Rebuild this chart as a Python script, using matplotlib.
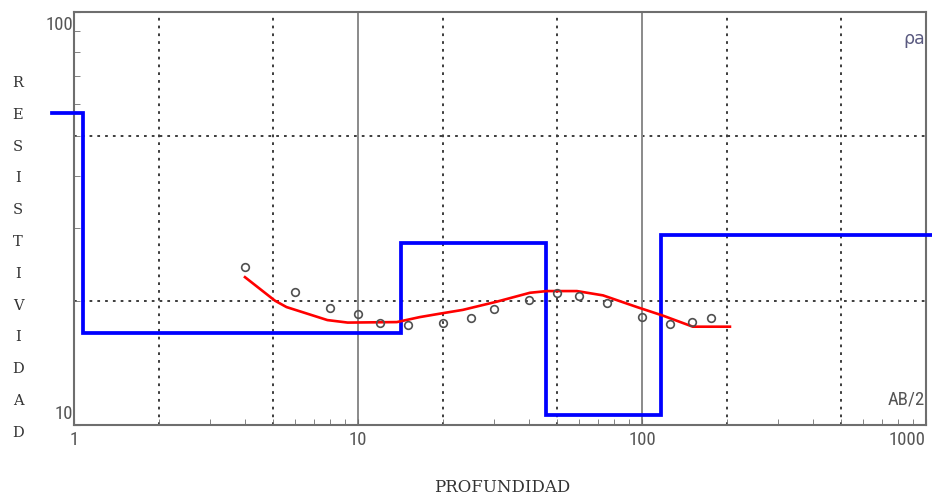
import matplotlib
matplotlib.use("Agg")
import matplotlib.pyplot as plt
from matplotlib import font_manager

# ---------- data ----------
# field measurements (AB/2, apparent resistivity)
ab2 = [4, 6, 8, 10, 12, 15, 20, 25, 30, 40, 50, 60, 75, 100, 125, 150, 175]
rho_obs = [24.1, 21.0, 19.2, 18.6, 17.7, 17.5, 17.7, 18.2, 19.1, 20.1,
           20.9, 20.5, 19.7, 18.3, 17.6, 17.8, 18.2]

# fitted curve
fit_x = [4.0, 5.1, 5.6, 7.8, 9.2, 13.7, 16.5, 19.4, 23.4, 30.9, 40.3,
         46.3, 59.0, 72.9, 96.0, 118.5, 151, 204]
fit_y = [22.8, 20.0, 19.3, 17.95, 17.7, 17.75, 18.25, 18.6, 19.0, 19.9,
         20.9, 21.1, 21.1, 20.6, 19.3, 18.4, 17.3, 17.3]

# layered model: depth boundaries and layer resistivities
depths = [0.84, 1.08, 14.2, 45.9, 116.7, 1050]
rho_layers = [56.9, 16.7, 27.6, 10.6, 28.8]

# pick a narrow font for the tick numbers if one is around
names = {f.name for f in font_manager.fontManager.ttflist}
narrow = "DejaVu Sans"
for cand in ["Liberation Sans Narrow", "Roboto Condensed", "DejaVu Sans Condensed"]:
    if cand in names:
        narrow = cand
        break

# ---------- figure ----------
fig = plt.figure(figsize=(9.32, 4.98), dpi=100)
ax = fig.add_axes([74 / 932, 1 - 425 / 498, 852 / 932, 413 / 498])
ax.set_xscale("log")
ax.set_yscale("log")
ax.set_xlim(1, 1000)
ax.set_ylim(10, 100)

# grid
for xv in [2, 5, 20, 50, 200, 500]:
    ax.axvline(xv, color="#3c3c3c", lw=1.4, ls=(0, (1.4, 2.6)), zorder=1)
for yv in [20, 50]:
    ax.axhline(yv, color="#3c3c3c", lw=1.4, ls=(0, (1.4, 2.6)), zorder=1)
for xv in [10, 100]:
    ax.axvline(xv, color="#8a8a8a", lw=1.4, zorder=1)

# model step line
step_x = []
step_y = []
for i, r in enumerate(rho_layers):
    step_x += [depths[i], depths[i + 1]]
    step_y += [r, r]
ax.plot(step_x, step_y, color="#0000ff", lw=2.7, clip_on=False, zorder=3,
        solid_joinstyle="miter")

# fitted curve and observations
ax.plot(fit_x, fit_y, color="#ff0000", lw=1.9, zorder=4)
ax.plot(ab2, rho_obs, ls="none", marker="o", ms=5.5, mfc="none",
        mec="#505050", mew=1.2, zorder=5)

# frame and ticks
for s in ax.spines.values():
    s.set_color("#6e6e6e")
    s.set_linewidth(1.5)
ax.tick_params(which="both", direction="in", colors="#6e6e6e", length=4,
               labelbottom=False, labelleft=False)

# tick labels as text
lab_kw = dict(color="#555555", fontsize=13.5, family=narrow)
ax.text(-0.001, 0.99, "100", transform=ax.transAxes, ha="right", va="top", **lab_kw)
ax.text(-0.001, 0.005, "10", transform=ax.transAxes, ha="right", va="bottom", **lab_kw)
for xv, lab in [(1, "1"), (10, "10"), (100, "100")]:
    ax.text(xv, -0.015, lab, transform=ax.get_xaxis_transform(),
            ha="center", va="top", **lab_kw)
ax.text(1.0, -0.015, "1000", transform=ax.transAxes, ha="right", va="top", **lab_kw)
ax.text(0.999, 0.04, "AB/2", transform=ax.transAxes, ha="right", va="bottom", **lab_kw)
ax.text(0.999, 0.935, "ρa", transform=ax.transAxes, ha="right", va="center",
        color="#5a5a80", fontsize=12.5)

# axis titles
word = "RESISTIVIDAD"
for i, ch in enumerate(word):
    fig.text(18 / 932, 1 - (83 + i * 31.8) / 498, ch, ha="center", va="center",
             family="DejaVu Serif", fontsize=10.5, color="#333333")
fig.text(502 / 932, 1 - 487 / 498, "PROFUNDIDAD", ha="center", va="center",
         family="DejaVu Serif", fontsize=12, color="#333333")

fig.savefig("out.png", dpi=100)
